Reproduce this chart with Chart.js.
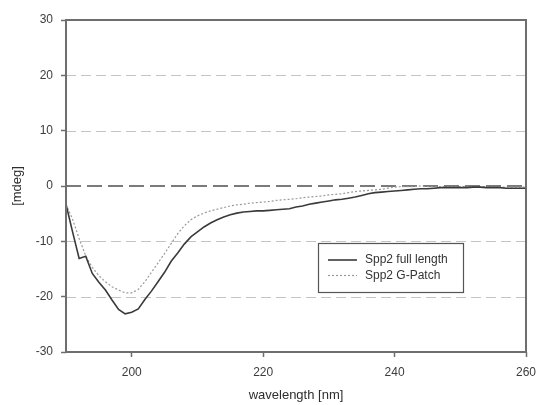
<!DOCTYPE html>
<html>
<head>
<meta charset="utf-8">
<script src="https://cdn.jsdelivr.net/npm/chart.js@4/dist/chart.umd.min.js"></script>
<style>
  html, body { margin: 0; padding: 0; background: #fff; }
  #wrap { width: 537px; height: 405px; position: relative; }
</style>
</head>
<body>
<div id="wrap"><canvas id="cd-chart"></canvas></div>
<script>
// CD spectra, one reading per nm
const wavelengths = [
  190, 191, 192, 193, 194, 195, 196, 197, 198, 199,
  200, 201, 202, 203, 204, 205, 206, 207, 208, 209,
  210, 211, 212, 213, 214, 215, 216, 217, 218, 219,
  220, 221, 222, 223, 224, 225, 226, 227, 228, 229,
  230, 231, 232, 233, 234, 235, 236, 237, 238, 239,
  240, 241, 242, 243, 244, 245, 246, 247, 248, 249,
  250, 251, 252, 253, 254, 255, 256, 257, 258, 259, 260
];
const fullLength = [
  -3.3, -8.3, -13.1, -12.7, -15.8, -17.4, -18.8, -20.6, -22.3, -23.1,
  -22.8, -22.2, -20.5, -19.0, -17.3, -15.6, -13.6, -12.1, -10.5, -9.2,
  -8.3, -7.4, -6.7, -6.1, -5.6, -5.2, -4.9, -4.7, -4.6, -4.5,
  -4.5, -4.4, -4.3, -4.2, -4.1, -3.8, -3.6, -3.3, -3.1, -2.9,
  -2.7, -2.5, -2.4, -2.2, -2.0, -1.7, -1.4, -1.2, -1.1, -1.0,
  -0.9, -0.8, -0.7, -0.6, -0.5, -0.5, -0.4, -0.3, -0.3, -0.3,
  -0.3, -0.3, -0.2, -0.2, -0.3, -0.3, -0.3, -0.4, -0.4, -0.4, -0.4
];
const gPatch = [
  -3.3, -6.0, -9.5, -12.6, -14.7, -16.2, -17.3, -18.2, -18.8, -19.3,
  -19.3, -18.7, -17.3, -15.6, -13.9, -12.2, -10.4, -8.6, -7.2, -6.1,
  -5.4, -4.9, -4.5, -4.2, -3.9, -3.6, -3.4, -3.3, -3.1, -3.0,
  -2.9, -2.8, -2.6, -2.5, -2.4, -2.3, -2.1, -2.0, -1.9, -1.8,
  -1.6, -1.5, -1.4, -1.2, -1.0, -0.9, -0.8, -0.7, -0.6, -0.4,
  -0.2, -0.1, -0.1, -0.1, 0.0, -0.1, -0.1, -0.1, -0.1, -0.1,
  -0.1, -0.1, -0.1, -0.1, -0.1, -0.2, -0.2, -0.2, -0.2, -0.2, -0.2
];
const seriesLabels = ['Spp2 full length', 'Spp2 G-Patch'];
const xTicks = [200, 220, 240, 260];
const yTicks = [-30, -20, -10, 0, 10, 20, 30];
const gridValues = [20, 10, -10, -20];

const FONT = '"Liberation Sans", Arial, sans-serif';

const toPoints = (ys) => wavelengths.map((x, i) => ({ x: x, y: ys[i] }));

// dashed reference lines behind the curves, heavier one at zero
const gridPlugin = {
  id: 'dashGrid',
  beforeDatasetsDraw(chart) {
    const { ctx, chartArea, scales } = chart;
    ctx.save();
    gridValues.forEach(v => {
      const y = Math.round(scales.y.getPixelForValue(v)) + 0.5;
      ctx.beginPath();
      ctx.setLineDash([10, 5]);
      ctx.lineWidth = 1;
      ctx.strokeStyle = '#c4c4c4';
      ctx.moveTo(chartArea.left, y);
      ctx.lineTo(chartArea.right, y);
      ctx.stroke();
    });
    const y0 = Math.round(scales.y.getPixelForValue(0));
    ctx.beginPath();
    ctx.setLineDash([15, 6]);
    ctx.lineWidth = 2;
    ctx.strokeStyle = '#7a7a7a';
    ctx.moveTo(chartArea.left, y0);
    ctx.lineTo(chartArea.right, y0);
    ctx.stroke();
    ctx.restore();
  }
};

// box around the plot + legend inside the plot area
const framePlugin = {
  id: 'frameLegend',
  afterDatasetsDraw(chart) {
    const { ctx, chartArea } = chart;
    const { left, right, top, bottom } = chartArea;
    ctx.save();
    ctx.setLineDash([]);
    ctx.strokeStyle = '#6e6e6e';
    ctx.lineWidth = 2;
    ctx.strokeRect(left, top, right - left, bottom - top);

    // legend
    const bx = left + 252, by = top + 223, bw = 145, bh = 49;
    ctx.fillStyle = '#fff';
    ctx.fillRect(bx, by, bw, bh);
    ctx.lineWidth = 1.2;
    ctx.strokeStyle = '#555';
    ctx.strokeRect(bx + 0.5, by + 0.5, bw, bh);

    ctx.font = '12px ' + FONT;
    ctx.textBaseline = 'middle';
    ctx.textAlign = 'left';
    chart.data.datasets.forEach((ds, i) => {
      const ly = by + 17 + i * 15.5;
      ctx.beginPath();
      ctx.setLineDash(ds.borderDash || []);
      ctx.lineWidth = ds.borderWidth;
      ctx.strokeStyle = ds.borderColor;
      ctx.moveTo(bx + 10, ly);
      ctx.lineTo(bx + 39, ly);
      ctx.stroke();
      ctx.setLineDash([]);
      ctx.fillStyle = '#333';
      ctx.fillText(ds.label, bx + 47, ly);
    });
    ctx.restore();
  }
};

const config = {
  type: 'line',
  data: {
    datasets: [
      {
        label: seriesLabels[0],
        data: toPoints(fullLength),
        borderColor: '#3a3a3a',
        borderWidth: 1.6,
        pointRadius: 0,
        tension: 0,
        fill: false,
      },
      {
        label: seriesLabels[1],
        data: toPoints(gPatch),
        borderColor: '#9a9a9a',
        borderWidth: 1.2,
        borderDash: [2, 2],
        pointRadius: 0,
        tension: 0,
        fill: false,
      }
    ]
  },
  options: {
    responsive: true,
    maintainAspectRatio: false,
    animation: false,
    layout: { padding: { top: 20, right: 11, left: 0, bottom: 0 } },
    plugins: {
      legend: { display: false },
      tooltip: { enabled: false },
    },
    scales: {
      x: {
        type: 'linear',
        min: 190,
        max: 260,
        afterBuildTicks: (scale) => { scale.ticks = xTicks.map(v => ({ value: v })); },
        afterFit: (scale) => {
          scale.height = 53;
          scale.paddingLeft = 0;
          scale.paddingRight = 0;
        },
        grid: {
          drawOnChartArea: false,
          drawTicks: true,
          tickLength: 5,
          tickColor: '#6e6e6e',
          tickWidth: 1.5,
        },
        border: { display: false },
        ticks: {
          padding: 8,
          maxRotation: 0,
          color: '#3c3c3c',
          font: { family: FONT, size: 12 },
        },
        title: {
          display: true,
          text: 'wavelength [nm]',
          color: '#2e2e2e',
          font: { family: FONT, size: 13 },
          padding: { top: 0, bottom: 2 },
        }
      },
      y: {
        type: 'linear',
        min: -30,
        max: 30,
        afterBuildTicks: (scale) => { scale.ticks = yTicks.map(v => ({ value: v })); },
        afterFit: (scale) => {
          scale.width = 66;
          scale.paddingTop = 0;
          scale.paddingBottom = 0;
        },
        grid: {
          drawOnChartArea: false,
          drawTicks: true,
          tickLength: 5,
          tickColor: '#6e6e6e',
          tickWidth: 1.5,
        },
        border: { display: false },
        ticks: {
          padding: 8,
          color: '#3c3c3c',
          font: { family: FONT, size: 12 },
        },
        title: {
          display: true,
          text: '[mdeg]',
          color: '#2e2e2e',
          font: { family: FONT, size: 13 },
          padding: { top: 10, bottom: 0 },
        }
      }
    }
  },
  plugins: [gridPlugin, framePlugin]
};

new Chart(document.getElementById('cd-chart'), config);
</script>
</body>
</html>
